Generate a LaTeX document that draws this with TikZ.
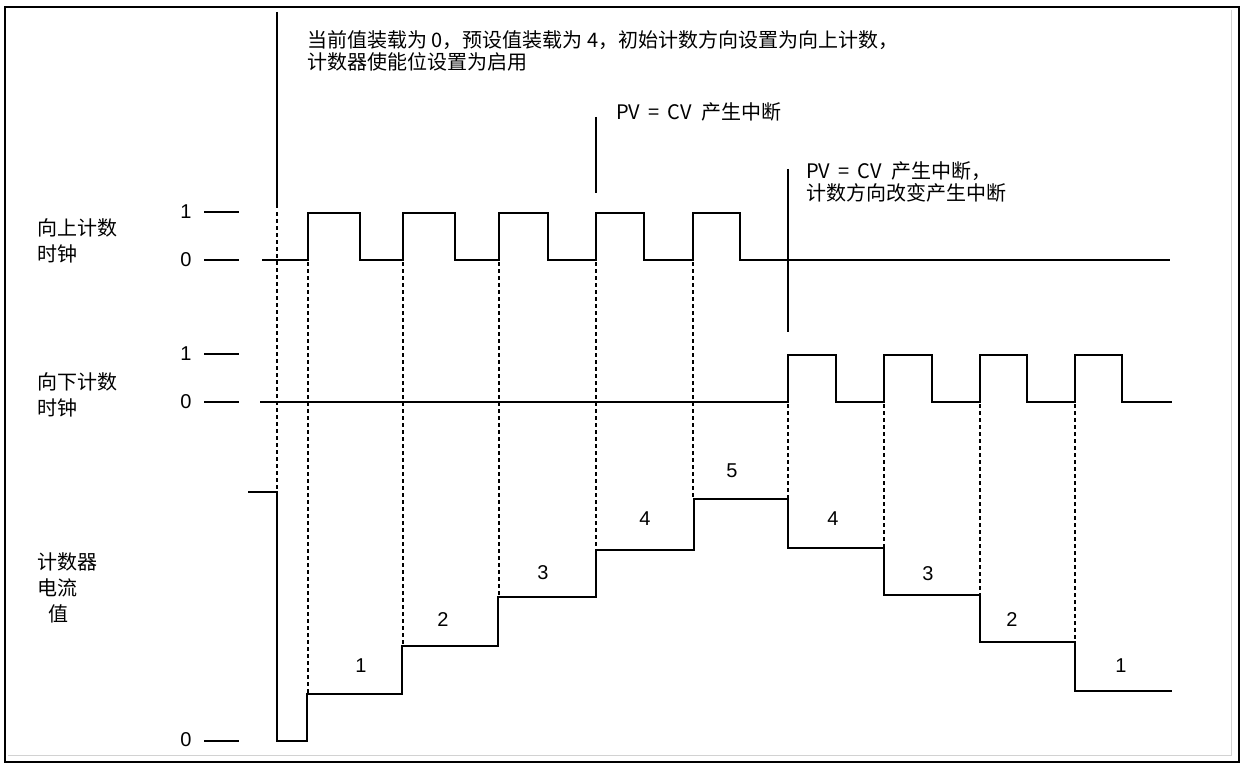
\documentclass[tikz,border=0pt]{standalone}
\usepackage{fontspec}
\setmainfont{Liberation Sans}
\newfontfamily\cjk{Noto Sans CJK SC}
\begin{document}
\begin{tikzpicture}[x=1pt,y=-1pt,
  wave/.style={line width=2.6pt, line join=miter, line cap=butt},
  tickline/.style={line width=1.4pt},
  guide/.style={line width=1.2pt, dash pattern=on 4pt off 3pt},
  markline/.style={line width=1.3pt},
  lvl/.style={font=\fontsize{20}{22}\selectfont, inner sep=0pt},
  num/.style={font=\fontsize{20}{22}\selectfont, inner sep=0pt},
  lab/.style={font=\cjk\fontsize{20}{26}\selectfont, inner sep=0pt, anchor=west, align=left},
  note/.style={font=\cjk\fontsize{20}{22}\selectfont, inner sep=0pt, anchor=west, align=left}]
\useasboundingbox (0,0) rectangle (1243,765);
\fill[white] (0,0) rectangle (1243,765);
% frame
\draw[gray!35, line width=1pt] (1231,10) -- (1231,755) -- (8,755);
\draw[line width=2pt] (5,7) rectangle (1239,762);

% dashed guides
\draw[guide] (277,212) -- (277,492);
\foreach \x/\yb in {308/694, 403/646, 499/597, 596/550, 693/499}
  \draw[guide] (\x,262) -- (\x,\yb);
\foreach \x/\yb in {788/548, 884/595, 980/642, 1075/691}
  \draw[guide] (\x,404) -- (\x,\yb);

% solid markers
\draw[markline] (277,12) -- (277,208);
\draw[markline] (596,117) -- (596,193);
\draw[markline] (788,169) -- (788,332);

% up clock
\draw[wave] (262,260) -- (308,260) -- (308,213) -- (360,213) -- (360,260) -- (403,260) -- (403,213) -- (455,213) -- (455,260) -- (499,260) -- (499,213) -- (548,213) -- (548,260) -- (596,260) -- (596,213) -- (644,213) -- (644,260) -- (693,260) -- (693,213) -- (740,213) -- (740,260) -- (1170,260);
% down clock
\draw[wave] (260,402) -- (788,402) -- (788,355) -- (836,355) -- (836,402) -- (884,402) -- (884,355) -- (932,355) -- (932,402) -- (980,402) -- (980,355) -- (1027,355) -- (1027,402) -- (1075,402) -- (1075,355) -- (1122,355) -- (1122,402) -- (1172,402);
% counter value
\draw[wave] (248,492) -- (277,492) -- (277,741) -- (307,741) -- (307,694) -- (402,694) -- (402,646) -- (498,646) -- (498,597) -- (596,597) -- (596,550) -- (694,550) -- (694,499) -- (788,499) -- (788,548) -- (884,548) -- (884,595) -- (980,595) -- (980,642) -- (1075,642) -- (1075,691) -- (1172,691);

% level labels and ticks
\node[lvl] (u1) at (186,212) {1};
\node[lvl] (u0) at (186,260) {0};
\node[lvl] (d1) at (186,354) {1};
\node[lvl] (d0) at (186,402) {0};
\node[lvl] (c0) at (186,740) {0};
\foreach \y in {212,260,354,402,741}
  \draw[tickline] (204,\y) -- (239,\y);

% row labels
\node[lab] (lu) at (37,241) {向上计数\\时钟};
\node[lab] (ld) at (37,395) {向下计数\\时钟};
\node[lab] (lc) at (37,588) {计数器\\电流\\\hspace{11pt}值};

% step numbers
\node[num] (n1) at (361,666) {1};
\node[num] (n2) at (443,620) {2};
\node[num] (n3) at (543,573) {3};
\node[num] (n4) at (645,519) {4};
\node[num] (n5) at (732,471) {5};
\node[num] (n6) at (833,519) {4};
\node[num] (n7) at (928,574) {3};
\node[num] (n8) at (1012,620) {2};
\node[num] (n9) at (1121,666) {1};

% notes
\node[note] (t1) at (307,51) {当前值装载为~0，预设值装载为~4，初始计数方向设置为向上计数，\\计数器使能位设置为启用};
\node[note] (t2) at (616,112) {PV\hspace{8pt}=\hspace{8pt}CV\hspace{10pt}产生中断};
\node[note] (t3) at (806,182) {PV\hspace{8pt}=\hspace{8pt}CV\hspace{10pt}产生中断，\\计数方向改变产生中断};
\end{tikzpicture}
\end{document}
